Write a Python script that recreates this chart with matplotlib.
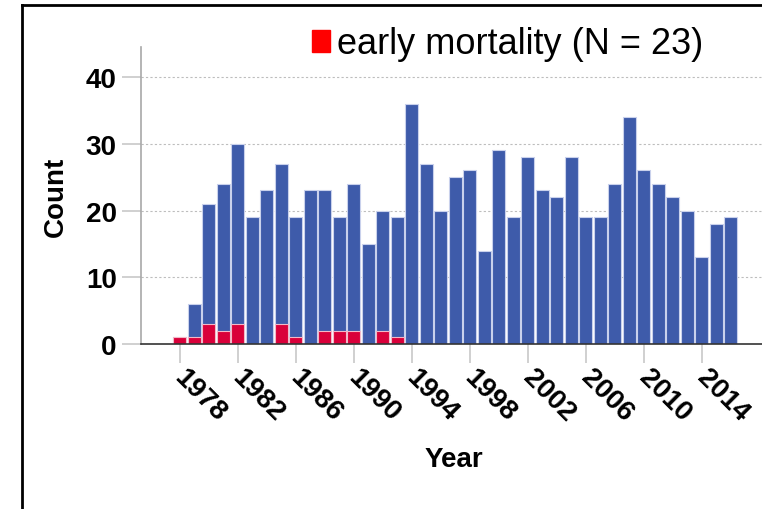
import matplotlib
matplotlib.use("Agg")
import matplotlib.pyplot as plt
from matplotlib.patches import Patch
from matplotlib.lines import Line2D
from matplotlib.transforms import ScaledTranslation

plt.rcParams['font.family'] = ['Liberation Sans', 'DejaVu Sans']

# Data: counts per year (all cases) and early mortality cases
years = list(range(1978, 2017))
total_counts = [1, 6, 21, 24, 30, 19, 23, 27, 19, 23, 23, 19, 24, 15, 20, 19,
                36, 27, 20, 25, 26, 14, 29, 19, 28, 23, 22, 28, 19, 19, 24, 34,
                26, 24, 22, 20, 13, 18, 19]
early_years = [1978, 1979, 1980, 1981, 1982, 1985, 1986, 1988, 1989, 1990, 1992, 1993]
early_counts = [1, 1, 3, 2, 3, 3, 1, 2, 2, 2, 2, 1]
tick_years = list(range(1978, 2015, 4))
y_ticks = [0, 10, 20, 30, 40]

blue = '#3E5BAA'
red = '#D9003A'

fig = plt.figure(figsize=(7.62, 5.10), dpi=100)
ax = fig.add_axes([141 / 762, 165 / 510, 1 - 141 / 762, 297 / 510])

ax.bar(years, total_counts, width=0.9, color=blue, edgecolor='#c9d1ec', linewidth=0.8, zorder=2)
ax.bar(early_years, early_counts, width=0.9, color=red, edgecolor='#f2b8c8', linewidth=0.8, zorder=3)

ax.set_xlim(1975.33, 2018.16)
ax.set_ylim(0, 44.5)

ax.set_yticks(y_ticks)
ax.set_yticklabels([str(v) for v in y_ticks], fontsize=20, fontweight='bold')
ax.set_xticks(tick_years)
ax.set_xticklabels([str(y) for y in tick_years], fontsize=20, fontweight='bold',
                   rotation=-45, ha='left', va='top', rotation_mode='anchor')
ax.tick_params(axis='both', length=13.5, width=1.2, color='#c8c8c8')
ax.tick_params(axis='y', pad=4)
ax.tick_params(axis='x', pad=0)
shift = ScaledTranslation(8 / 100, -1 / 100, fig.dpi_scale_trans)
for lab in ax.get_xticklabels():
    lab.set_transform(lab.get_transform() + shift)

for v in y_ticks[1:]:
    ax.axhline(v, color='#bdbdbd', linestyle=(0, (2, 2)), linewidth=0.8, zorder=1)

for s in ['top', 'right']:
    ax.spines[s].set_visible(False)
ax.spines['left'].set_color('#a8a8a8')
ax.spines['left'].set_linewidth(1.2)
ax.spines['bottom'].set_color('#333333')
ax.spines['bottom'].set_linewidth(1.2)
ax.spines['bottom'].set_zorder(4)

ax.set_xlabel('Year', fontsize=20, fontweight='bold')
ax.set_ylabel('Count', fontsize=20, fontweight='bold')
ax.xaxis.set_label_coords(0.503, -0.345)
ax.yaxis.set_label_coords(-0.116, 0.5)

# Legend at the top
fig.legend(handles=[Patch(color='#FF0000', label='early mortality (N = 23)')],
           loc='center left', bbox_to_anchor=(312 / 762, 1 - 45 / 510),
           frameon=False, fontsize=26, handlelength=0.5, handleheight=0.58,
           handletextpad=0.2, borderaxespad=0, borderpad=0)

# Outer frame of the output window
fig.add_artist(Line2D([22 / 762, 22 / 762], [0, 1 - 6 / 510], transform=fig.transFigure,
                      color='black', linewidth=2))
fig.add_artist(Line2D([22 / 762, 1], [1 - 6 / 510, 1 - 6 / 510], transform=fig.transFigure,
                      color='black', linewidth=2))

fig.savefig('out.png', dpi=100)
